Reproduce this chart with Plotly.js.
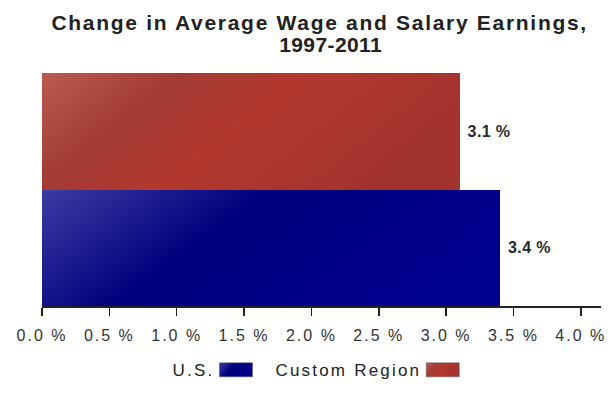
<!DOCTYPE html>
<html>
<head>
<meta charset="utf-8">
<script src="https://cdn.plot.ly/plotly-3.0.1.min.js"></script>
<style>html,body{margin:0;padding:0;background:#fff;}#chart{width:610px;height:397px;}</style>
</head>
<body>
<div id="chart"></div>
<script>
const seriesNames = ["U.S.", "Custom Region"];
const seriesValues = [3.4, 3.1];
const seriesColors = ["#0a0a88", "#a83630"];
const tickValues = [0, 0.5, 1, 1.5, 2, 2.5, 3, 3.5, 4];
const titleLines = ["Change in Average Wage and Salary Earnings,", "1997-2011"];

const FONT = "Liberation Sans, Arial, sans-serif";

const traces = seriesNames.map((name, i) => ({
  type: "bar",
  orientation: "h",
  name: name,
  x: [seriesValues[i]],
  y: [name],
  marker: { color: seriesColors[i], line: { width: 0 } },
  text: [seriesValues[i].toFixed(1) + " %"],
  textposition: "outside",
  textfont: { family: FONT, size: 16, color: "#2a2a2a", weight: "bold" },
  cliponaxis: false,
  hoverinfo: "none"
}));

const layout = {
  width: 610, height: 397,
  margin: { l: 42, r: 9, t: 73, b: 85 },
  paper_bgcolor: "#fff", plot_bgcolor: "#fff",
  font: { family: FONT, color: "#222" },
  bargap: 0,
  xaxis: {
    range: [0, 4.15],
    tickvals: tickValues,
    ticktext: tickValues.map(v => v.toFixed(1) + " %"),
    ticks: "outside", ticklen: 8, tickwidth: 1.5, tickcolor: "#222",
    showline: true, linecolor: "#222", linewidth: 1.5,
    showgrid: false, zeroline: false,
    tickfont: { size: 16, color: "#333" },
    ticklabelstandoff: 6
  },
  yaxis: {
    categoryorder: "array", categoryarray: seriesNames,
    range: [-0.5, 1.5],
    showticklabels: false, showgrid: false, zeroline: false, showline: false, ticks: ""
  },
  annotations: [
    { text: titleLines[0], xref: "paper", yref: "paper", x: 0.497, y: 1.215, xanchor: "center", yanchor: "middle",
      showarrow: false, font: { family: FONT, size: 21, weight: "bold", color: "#222" } },
    { text: titleLines[1], xref: "paper", yref: "paper", x: 0.517, y: 1.123, xanchor: "center", yanchor: "middle",
      showarrow: false, font: { family: FONT, size: 21, weight: "bold", color: "#222" } }
  ],
  showlegend: true,
  legend: {
    orientation: "h", x: 0.49, xanchor: "center", y: -0.276, yanchor: "middle",
    font: { family: FONT, size: 17, color: "#222" }, itemclick: false, itemdoubleclick: false
  }
};

Plotly.newPlot("chart", traces, layout, { staticPlot: true, displayModeBar: false }).then(gd => {
  const svgNS = "http://www.w3.org/2000/svg";
  const svg = gd.querySelector("svg.main-svg");
  let defs = svg.querySelector("defs");
  if (!defs) { defs = document.createElementNS(svgNS, "defs"); svg.insertBefore(defs, svg.firstChild); }
  function grad(id, stops, x2, y2) {
    const g = document.createElementNS(svgNS, "linearGradient");
    g.setAttribute("id", id);
    g.setAttribute("x1", "0"); g.setAttribute("y1", "0");
    g.setAttribute("x2", x2); g.setAttribute("y2", y2);
    stops.forEach(s => {
      const st = document.createElementNS(svgNS, "stop");
      st.setAttribute("offset", s[0]); st.setAttribute("stop-color", s[1]);
      g.appendChild(st);
    });
    defs.appendChild(g);
  }
  grad("gBlue", [["0", "#3c3ca4"], ["0.3", "#14148a"], ["0.45", "#00007e"], ["1", "#00008e"]], "1", "0.35");
  grad("gRed", [["0", "#bb5a52"], ["0.3", "#a23b35"], ["0.55", "#b3382f"], ["1", "#a3332e"]], "1", "0.35");
  const ids = ["gBlue", "gRed"];
  gd.querySelectorAll(".barlayer .trace").forEach((t, i) => {
    t.querySelectorAll("path").forEach(p => { p.style.fill = "url(#" + ids[i] + ")"; });
  });

  // letter spacing to mimic the reference's spaced rendering
  const ann = gd.querySelectorAll(".annotation-text");
  if (ann[0]) ann[0].style.letterSpacing = "1.7px";
  if (ann[1]) ann[1].style.letterSpacing = "0.4px";
  gd.querySelectorAll(".xtick text").forEach(t => { t.style.letterSpacing = "2px"; });
  gd.querySelectorAll(".bartext").forEach(t => {
    t.style.letterSpacing = "0.4px";
    const tr = t.getAttribute("transform") || "";
    t.setAttribute("transform", "translate(6,0) " + tr);
  });

  // legend: text first, swatch after, manually spaced
  const SW = 33, SH = 14, GAP_TS = 5, GAP_ITEM = 23;
  const legend = gd.querySelector(".legend");
  const scroll = legend.querySelector(".scrollbox");
  if (scroll) scroll.removeAttribute("clip-path");
  const bg = legend.querySelector(".bg");
  if (bg) bg.style.display = "none";
  const items = Array.from(legend.querySelectorAll(".traces"));
  const widths = items.map(t => {
    const txt = t.querySelector(".legendtext");
    txt.style.letterSpacing = "2.2px";
    txt.setAttribute("x", 0);
    return txt.getComputedTextLength();
  });
  const total = widths.reduce((a, w) => a + w + GAP_TS + SW, 0) + GAP_ITEM * (items.length - 1);
  const lt = legend.getAttribute("transform");
  const m = /translate\(([-\d.]+)[ ,]+([-\d.]+)\)/.exec(lt);
  const lx = m ? parseFloat(m[1]) : 0;
  const plotL = gd._fullLayout._size.l, plotW = gd._fullLayout._size.w;
  const center = plotL + plotW * layout.legend.x;
  let cur = center - total / 2;
  items.forEach((t, i) => {
    const tm = /translate\(([-\d.]+)[ ,]+([-\d.]+)\)/.exec(t.getAttribute("transform") || "");
    const ty = tm ? parseFloat(tm[2]) : 0;
    t.setAttribute("transform", "translate(" + (cur - lx) + "," + ty + ")");
    const pts = t.querySelector(".legendpoints");
    pts.setAttribute("transform", "translate(" + (widths[i] + GAP_TS) + ",0)");
    pts.querySelectorAll("path").forEach(p => {
      p.setAttribute("d", "M0," + SH / 2 + "H" + SW + "V-" + SH / 2 + "H0Z");
      p.setAttribute("transform", "translate(0,0)");
      p.style.fill = "url(#" + ids[i] + ")";
      p.style.stroke = "#555";
      p.style.strokeWidth = "0.5px";
    });
    cur += widths[i] + GAP_TS + SW + GAP_ITEM;
  });
});
</script>
</body>
</html>
